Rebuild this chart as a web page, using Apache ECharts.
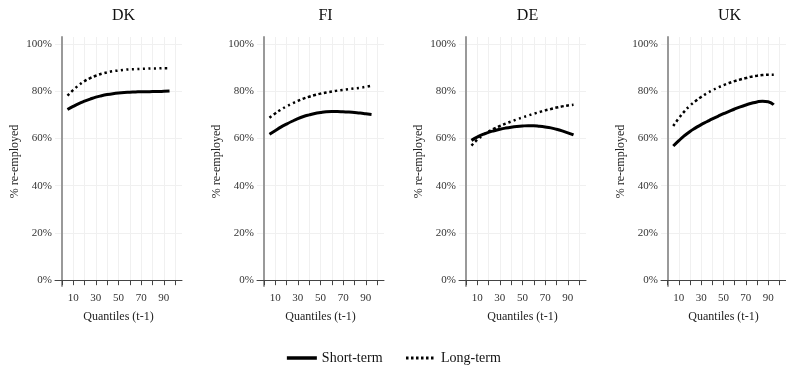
<!DOCTYPE html>
<html>
<head>
<meta charset="utf-8">
<script src="https://cdn.jsdelivr.net/npm/echarts@6/dist/echarts.min.js"></script>
<style>
html, body { margin: 0; padding: 0; background: #fff; }
#main { width: 786px; height: 368px; }
</style>
</head>
<body>
<div id="main"></div>
<script>
// quantile positions of the fitted curves
var quantiles = [5, 10, 15, 20, 25, 30, 35, 40, 45, 50, 55, 60, 65, 70, 75, 80, 85, 90, 95]
var countries = ['DK', 'FI', 'DE', 'UK']

var dkShort = [72.3, 73.6, 74.8, 75.8, 76.7, 77.5, 78.1, 78.6, 79.0, 79.3, 79.5, 79.6, 79.7, 79.8, 79.8, 79.9, 79.9, 80.0, 80.1]
var dkLong = [78.2, 80.5, 82.6, 84.3, 85.6, 86.6, 87.4, 88.0, 88.5, 88.8, 89.1, 89.3, 89.4, 89.5, 89.6, 89.7, 89.7, 89.8, 89.8]
var fiShort = [61.8, 63.3, 64.8, 66.1, 67.3, 68.4, 69.3, 70.0, 70.6, 71.0, 71.3, 71.4, 71.4, 71.3, 71.2, 71.0, 70.8, 70.5, 70.2]
var fiLong = [68.8, 70.6, 72.2, 73.6, 74.8, 75.9, 76.9, 77.7, 78.4, 79.0, 79.5, 79.9, 80.3, 80.6, 80.9, 81.2, 81.5, 81.9, 82.4]
var deShort = [59.2, 60.6, 61.7, 62.6, 63.3, 63.9, 64.4, 64.8, 65.1, 65.3, 65.4, 65.4, 65.2, 64.9, 64.5, 63.9, 63.2, 62.4, 61.5]
var deLong = [57.0, 59.4, 61.3, 62.9, 64.2, 65.3, 66.3, 67.2, 68.1, 68.9, 69.7, 70.5, 71.2, 71.9, 72.5, 73.1, 73.6, 74.0, 74.3]
var ukShort = [56.8, 59.1, 61.2, 63.0, 64.5, 65.9, 67.1, 68.3, 69.4, 70.5, 71.5, 72.5, 73.4, 74.2, 74.9, 75.5, 75.8, 75.6, 74.3]
var ukLong = [65.3, 68.6, 71.5, 73.9, 75.9, 77.6, 79.1, 80.4, 81.6, 82.6, 83.5, 84.3, 85.0, 85.6, 86.2, 86.6, 86.9, 87.0, 87.0]

var shortSeries = [dkShort, fiShort, deShort, ukShort]
var longSeries = [dkLong, fiLong, deLong, ukLong]

var xTicks = [0, 10, 20, 30, 40, 50, 60, 70, 80, 90, 100]
var xLabels = [10, 30, 50, 70, 90]
var yTicks = [0, 20, 40, 60, 80, 100]

var font = 'Liberation Serif'
var panelLeft = [55, 257, 459, 661]
var panelWidth = 127

function pairs (vals) {
  return quantiles.map(function (q, i) { return [q, vals[i]] })
}

var grids = [], xAxes = [], yAxes = [], titles = [], series = []
countries.forEach(function (c, i) {
  grids.push({ left: panelLeft[i], top: 37, width: panelWidth, height: 249 })
  titles.push({
    text: c,
    left: panelLeft[i] + panelWidth / 2,
    top: 3,
    textAlign: 'center',
    textStyle: { fontFamily: font, fontSize: 16, fontWeight: 'normal', color: '#111' }
  })
  xAxes.push({
    type: 'value',
    gridIndex: i,
    min: -6,
    max: 106,
    name: 'Quantiles (t-1)',
    nameLocation: 'middle',
    nameGap: 25,
    nameTextStyle: { fontFamily: font, fontSize: 12, color: '#222' },
    axisLine: { lineStyle: { color: '#444', width: 1 } },
    axisTick: { show: true, customValues: xTicks, length: 5, lineStyle: { color: '#444' } },
    axisLabel: { customValues: xLabels, fontFamily: font, fontSize: 11, color: '#333', margin: 7 },
    splitLine: { show: true, lineStyle: { color: '#f0f0f0', width: 1 } }
  })
  yAxes.push({
    type: 'value',
    gridIndex: i,
    min: -2.5,
    max: 103,
    name: '% re-employed',
    nameLocation: 'middle',
    nameGap: 34,
    nameTextStyle: { fontFamily: font, fontSize: 12, color: '#222' },
    axisLine: { show: true, lineStyle: { color: '#999', width: 2 } },
    axisTick: { show: false, customValues: yTicks },
    axisLabel: {
      customValues: yTicks,
      fontFamily: font, fontSize: 11, color: '#333', margin: 3,
      formatter: function (v) { return v + '%' }
    },
    splitLine: { show: true, lineStyle: { color: '#f0f0f0', width: 1 } }
  })
  series.push({
    name: 'Short-term',
    type: 'line',
    xAxisIndex: i,
    yAxisIndex: i,
    data: pairs(shortSeries[i]),
    smooth: true,
    symbol: 'none',
    lineStyle: { color: '#000', width: 3 },
    itemStyle: { color: '#000' }
  })
  series.push({
    name: 'Long-term',
    type: 'line',
    xAxisIndex: i,
    yAxisIndex: i,
    data: pairs(longSeries[i]),
    smooth: true,
    symbol: 'none',
    lineStyle: { color: '#000', width: 2.5, type: [2.5, 3] },
    itemStyle: { color: '#000' }
  })
})

var myChart = echarts.init(document.getElementById('main'))
myChart.setOption({
  backgroundColor: '#fff',
  animation: false,
  title: titles,
  legend: {
    data: [
      { name: 'Short-term', lineStyle: { width: 3.5 } },
      { name: 'Long-term', lineStyle: { width: 3, type: [2.5, 2.5] } }
    ],
    top: 346,
    left: 'center',
    itemWidth: 30,
    itemHeight: 12,
    itemGap: 22,
    itemStyle: { opacity: 0 },
    textStyle: { fontFamily: font, fontSize: 14, color: '#111' }
  },
  grid: grids,
  xAxis: xAxes,
  yAxis: yAxes,
  series: series
})
</script>
</body>
</html>
